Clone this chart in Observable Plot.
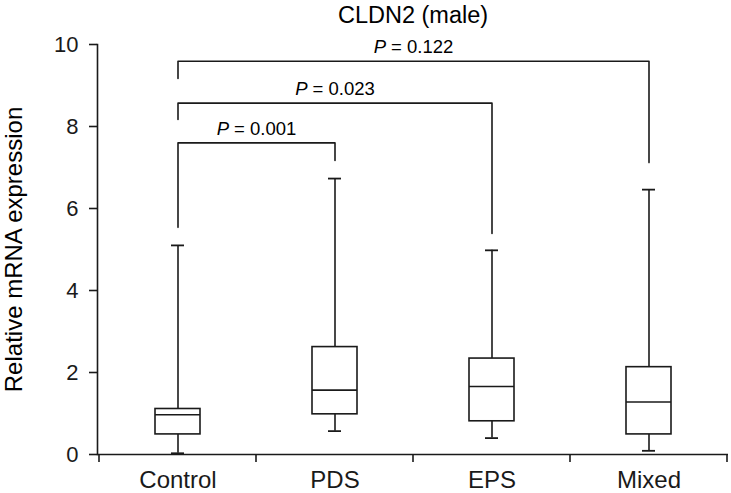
<!DOCTYPE html>
<html>
<head>
<meta charset="utf-8">
<script src="https://cdn.jsdelivr.net/npm/d3@7"></script>
<script src="https://cdn.jsdelivr.net/npm/@observablehq/plot@0.6"></script>
<style>
  html, body { margin: 0; padding: 0; background: #fff; }
</style>
</head>
<body>
<div id="chart"></div>
<script>
const title = "CLDN2 (male)";
const yLabel = "Relative mRNA expression";
const categories = ["Control", "PDS", "EPS", "Mixed"];
const whiskerLow  = [0.03, 0.57, 0.40, 0.09];
const q1          = [0.49, 0.98, 0.81, 0.49];
const median      = [0.97, 1.57, 1.66, 1.28];
const q3          = [1.11, 2.62, 2.34, 2.13];
const whiskerHigh = [5.10, 6.73, 4.98, 6.46];
const yTicks = [0, 2, 4, 6, 8, 10];

const bracketFrom = ["Control", "Control", "Control"];
const bracketTo   = ["PDS", "EPS", "Mixed"];
const bracketY    = [7.60, 8.57, 9.59];
const bracketLeftEnd  = [5.54, 8.17, 9.17];
const bracketRightEnd = [7.17, 5.39, 7.12];
const pValues = ["0.001", "0.023", "0.122"];

const boxes = categories.map((c, i) => ({
  cat: c, lo: whiskerLow[i], q1: q1[i], med: median[i], q3: q3[i], hi: whiskerHigh[i]
}));

const bracketPts = [];
bracketFrom.forEach((f, i) => {
  bracketPts.push({id: i, x: f, y: bracketLeftEnd[i]});
  bracketPts.push({id: i, x: f, y: bracketY[i]});
  bracketPts.push({id: i, x: bracketTo[i], y: bracketY[i]});
  bracketPts.push({id: i, x: bracketTo[i], y: bracketRightEnd[i]});
});
const brackets = bracketFrom.map((f, i) => ({from: f, to: bracketTo[i], y: bracketY[i], p: pValues[i]}));

const ink = "#1a1a1a";
const boxInset = 56;
const capInset = 72;

const plot = Plot.plot({
  width: 731,
  height: 493,
  marginLeft: 97,
  marginRight: 3,
  marginTop: 44,
  marginBottom: 39,
  style: {fontFamily: "'Liberation Sans', Arial, sans-serif", fontSize: "22px", color: ink, background: "#fff"},
  x: {type: "band", domain: categories, padding: 0},
  y: {domain: [0, 10]},
  marks: [
    Plot.frame({anchor: "left", stroke: ink, strokeWidth: 1.6}),
    Plot.ruleY([0], {stroke: ink, strokeWidth: 1.6}),
    // band boundary ticks on the x axis
    Plot.ruleY([0], {
      render: (index, scales) => {
        const x = scales.x, y = scales.y;
        const bw = x.bandwidth();
        const edges = categories.map(c => x(c));
        edges.push(x(categories[categories.length - 1]) + bw);
        const y0 = y(0);
        const g = d3.create("svg:g");
        for (const e of edges) {
          g.append("line")
            .attr("x1", e).attr("x2", e)
            .attr("y1", y0).attr("y2", y0 + 8)
            .attr("stroke", ink).attr("stroke-width", 1.6);
        }
        return g.node();
      }
    }),
    Plot.axisY({ticks: yTicks, tickSize: 8, tickPadding: 11, fontSize: 22, label: null, stroke: ink, strokeWidth: 1.6}),
    Plot.axisX({tickSize: 0, tickPadding: 16, fontSize: 24, label: null}),
    // whiskers
    Plot.ruleX(boxes, {x: "cat", y1: "q3", y2: "hi", stroke: ink, strokeWidth: 1.6}),
    Plot.ruleX(boxes, {x: "cat", y1: "lo", y2: "q1", stroke: ink, strokeWidth: 1.6}),
    Plot.tickY(boxes, {x: "cat", y: "hi", stroke: ink, strokeWidth: 1.8, insetLeft: capInset, insetRight: capInset}),
    Plot.tickY(boxes, {x: "cat", y: "lo", stroke: ink, strokeWidth: 1.8, insetLeft: capInset, insetRight: capInset}),
    // boxes
    Plot.barY(boxes, {x: "cat", y1: "q1", y2: "q3", fill: "white", stroke: ink, strokeWidth: 1.6, insetLeft: boxInset, insetRight: boxInset}),
    Plot.tickY(boxes, {x: "cat", y: "med", stroke: ink, strokeWidth: 1.6, insetLeft: boxInset, insetRight: boxInset}),
    // significance brackets
    Plot.line(bracketPts, {x: "x", y: "y", z: "id", stroke: ink, strokeWidth: 1.6, curve: "linear"}),
    Plot.text(brackets, {
      x: "from", y: "y", text: d => "P = " + d.p,
      lineAnchor: "bottom", dy: -8, fontSize: 18.5, fill: "#000",
      render: (index, scales, values, dimensions, context, next) => {
        const Xfull = new Float64Array(values.x.length);
        for (const i of index) {
          Xfull[i] = (scales.x(brackets[i].from) + scales.x(brackets[i].to)) / 2;
        }
        const g = next(index, scales, {...values, x: Xfull}, dimensions, context);
        d3.select(g).selectAll("text").each(function(_, k) {
          const i = index[k];
          const sel = d3.select(this);
          sel.text(null);
          sel.append("tspan").attr("font-style", "italic").text("P");
          sel.append("tspan").text(" = " + brackets[i].p);
        });
        return g;
      }
    }),
    // title
    Plot.text([title], {frameAnchor: "top", lineAnchor: "bottom", dy: -22, fontSize: 23.5, fill: "#000"}),
    // y label
    Plot.text([yLabel], {frameAnchor: "left", textAnchor: "middle", rotate: -90, lineAnchor: "bottom", dx: -76, fontSize: 24, fill: "#000"})
  ]
});

document.getElementById("chart").appendChild(plot);
</script>
</body>
</html>
